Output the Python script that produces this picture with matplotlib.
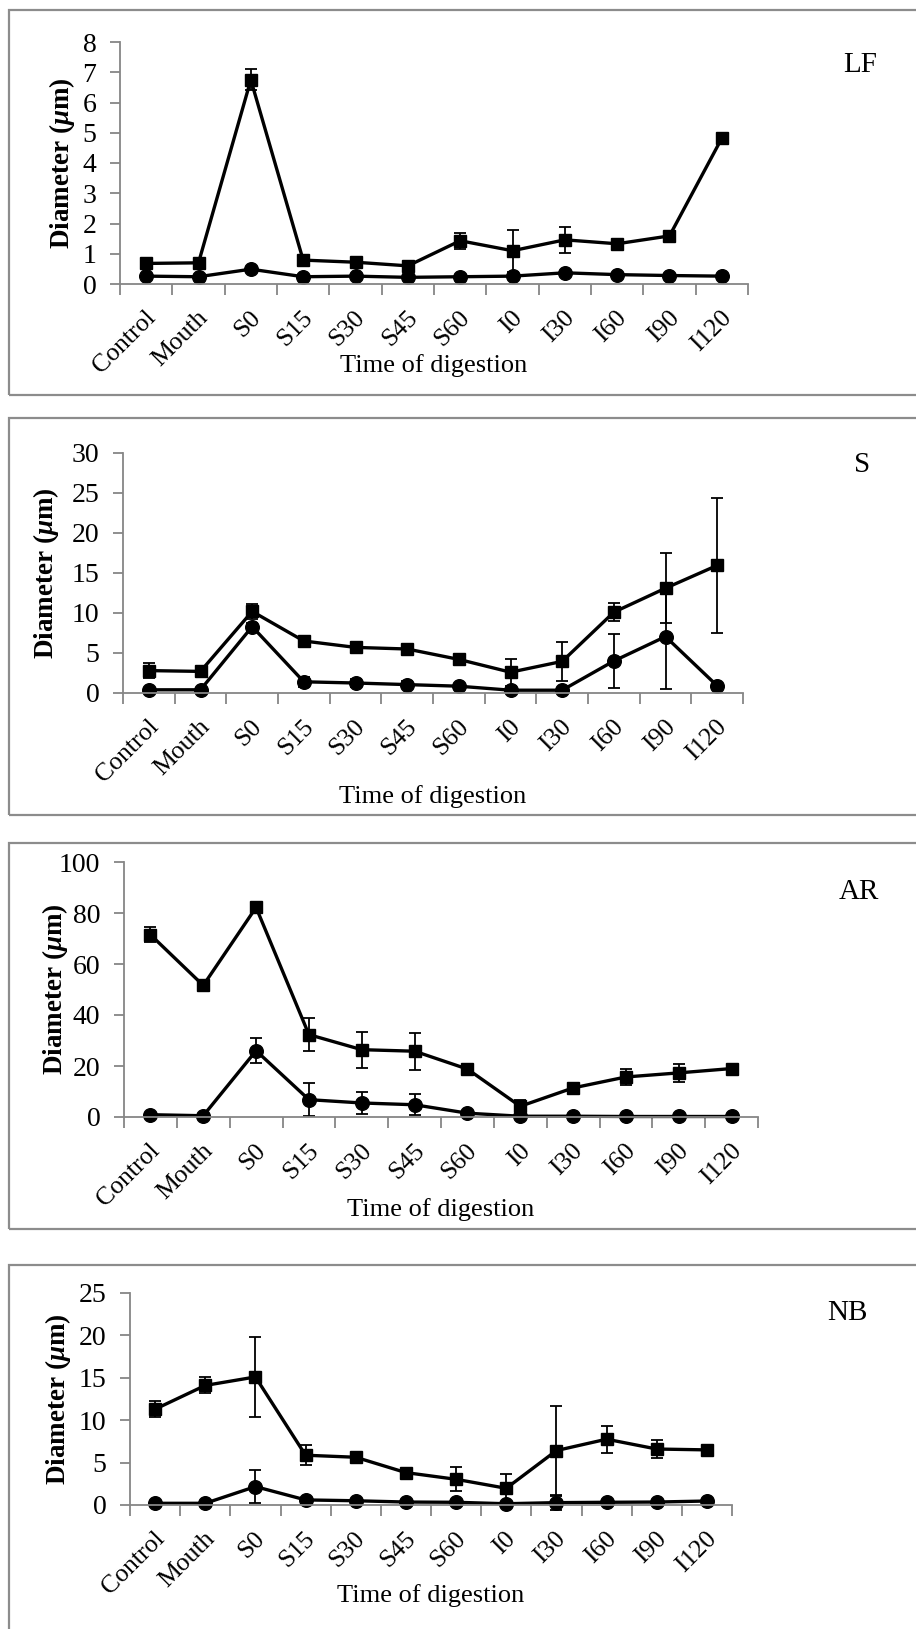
import numpy as np
import matplotlib
matplotlib.use("Agg")
import matplotlib.pyplot as plt
from matplotlib.patches import Rectangle

plt.rcParams['font.family'] = ['Liberation Serif', 'DejaVu Serif']
plt.rcParams['mathtext.fontset'] = 'custom'
plt.rcParams['mathtext.it'] = 'Liberation Serif:italic:bold'
plt.rcParams['mathtext.rm'] = 'Liberation Serif:bold'

cats = ["Control", "Mouth", "S0", "S15", "S30", "S45", "S60", "I0", "I30", "I60", "I90", "I120"]

# LF
lf_sq = [0.68, 0.70, 6.75, 0.79, 0.72, 0.60, 1.43, 1.10, 1.46, 1.33, 1.59, 4.82]
lf_sq_err = [0.05, 0.05, 0.35, 0.08, 0.08, 0.05, 0.27, 0.69, 0.42, 0.10, 0.08, 0.06]
lf_ci = [0.26, 0.24, 0.49, 0.24, 0.26, 0.22, 0.24, 0.26, 0.37, 0.31, 0.28, 0.26]
lf_ci_err = [0.02] * 12

# S
s_sq = [2.8, 2.7, 10.2, 6.5, 5.7, 5.5, 4.2, 2.6, 3.95, 10.1, 13.1, 15.95]
s_sq_err = [0.95, 0.5, 0.9, 0.3, 0.3, 0.3, 0.3, 1.7, 2.4, 1.1, 4.4, 8.4]
s_ci = [0.4, 0.4, 8.3, 1.4, 1.25, 1.05, 0.85, 0.35, 0.35, 4.0, 7.05, 0.9]
s_ci_err = [0.1, 0.1, 0.5, 0.6, 0.5, 0.4, 0.2, 0.1, 0.1, 3.4, 6.5, 0.2]

# AR
ar_sq = [71.5, 51.6, 82.2, 32.3, 26.4, 25.8, 18.8, 4.2, 11.4, 15.7, 17.3, 19.0]
ar_sq_err = [3.0, 1.0, 1.0, 6.5, 7.0, 7.3, 1.0, 2.6, 1.0, 3.1, 3.5, 1.0]
ar_ci = [0.9, 0.5, 26.0, 6.8, 5.5, 4.8, 1.5, 0.3, 0.3, 0.2, 0.2, 0.2]
ar_ci_err = [0.3, 0.2, 5.0, 6.4, 4.2, 4.1, 0.5, 0.1, 0.1, 0.1, 0.1, 0.1]

# NB
nb_sq = [11.3, 14.1, 15.1, 5.87, 5.63, 3.82, 3.03, 1.97, 6.42, 7.76, 6.6, 6.5]
nb_sq_err = [0.95, 0.95, 4.75, 1.15, 0.3, 0.3, 1.42, 1.65, 5.3, 1.6, 1.1, 0.4]
nb_ci = [0.2, 0.2, 2.17, 0.6, 0.5, 0.35, 0.32, 0.15, 0.28, 0.32, 0.35, 0.47]
nb_ci_err = [0.05, 0.05, 1.9, 0.1, 0.1, 0.05, 0.05, 0.05, 0.9, 0.05, 0.05, 0.05]

W, H = 916, 1629
fig = plt.figure(figsize=(W / 100, H / 100), dpi=100)

# name, data, ymax, ystep, axes px (left,right,y0,ytop), box px (top,bottom), letter pos, ylabel x, xlabel y
panels = [
    ("LF", lf_sq, lf_sq_err, lf_ci, lf_ci_err, 8, 1, (120, 748, 284, 42), (10, 395), (860, 65), 62, 366),
    ("S", s_sq, s_sq_err, s_ci, s_ci_err, 30, 5, (123, 743, 693, 453), (418, 815), (862, 465), 46, 797),
    ("AR", ar_sq, ar_sq_err, ar_ci, ar_ci_err, 100, 20, (124, 758, 1117, 862), (843, 1229), (859, 892), 55, 1210),
    ("NB", nb_sq, nb_sq_err, nb_ci, nb_ci_err, 25, 5, (130, 732, 1505, 1293), (1265, 1700), (847, 1313), 58, 1596),
]

axcol = "#868686"
x = np.arange(len(cats))

for name, sq, sqe, ci, cie, ymax, ystep, (l, r, y0, yt), (bt, bb), (lx, ly), ylx, xly in panels:
    # border box
    fig.patches.append(Rectangle((9 / W, 1 - bb / H), (W + 20) / W, (bb - bt) / H,
                                 transform=fig.transFigure, fill=False,
                                 edgecolor="#8c8c8c", linewidth=1.6))
    ax = fig.add_axes([l / W, 1 - y0 / H, (r - l) / W, (y0 - yt) / H])
    ax.errorbar(x, sq, yerr=sqe, color="black", marker="s", markersize=9,
                linewidth=2.4, elinewidth=1.3, capsize=4, capthick=1.3)
    ax.errorbar(x, ci, yerr=cie, color="black", marker="o", markersize=9.8,
                linewidth=2.4, elinewidth=1.3, capsize=4, capthick=1.3)
    ax.set_xlim(-0.5, len(cats) - 0.5)
    ax.set_ylim(0, ymax)
    ax.set_yticks(np.arange(0, ymax + ystep / 2, ystep))
    ax.set_xticks(np.arange(-0.5, len(cats)), minor=False)
    ax.set_xticklabels([])
    # labels sit a little right of the category centre, as in the original
    ax.set_xticks(x + 0.12, minor=True)
    ax.set_xticklabels(cats, minor=True, rotation=45, ha="right", va="center",
                       rotation_mode="anchor", fontsize=18.5)
    ax.tick_params(axis="x", which="minor", length=0, pad=22)
    ax.tick_params(axis="x", which="major", direction="out", length=8, width=1.3, color=axcol)
    ax.tick_params(axis="y", direction="out", length=7, width=1.3, color=axcol, labelsize=20, pad=10)
    for s in ["top", "right"]:
        ax.spines[s].set_visible(False)
    for s in ["left", "bottom"]:
        ax.spines[s].set_color(axcol)
        ax.spines[s].set_linewidth(1.3)
    for art in ax.lines + ax.collections:
        art.set_clip_on(False)
    ax.set_ylabel(r"Diameter ($\mu$m)", fontsize=19.5, fontweight="bold")
    ax.yaxis.set_label_coords((ylx - l) / (r - l), 0.5)
    ax.yaxis.label.set_va("center")
    ax.set_xlabel("Time of digestion", fontsize=19)
    ax.xaxis.set_label_coords(0.5, -(xly - y0) / (y0 - yt))
    ax.xaxis.label.set_va("center")
    fig.text(lx / W, 1 - ly / H, name, fontsize=21, ha="center", va="center")

fig.savefig("out.png", dpi=100)
